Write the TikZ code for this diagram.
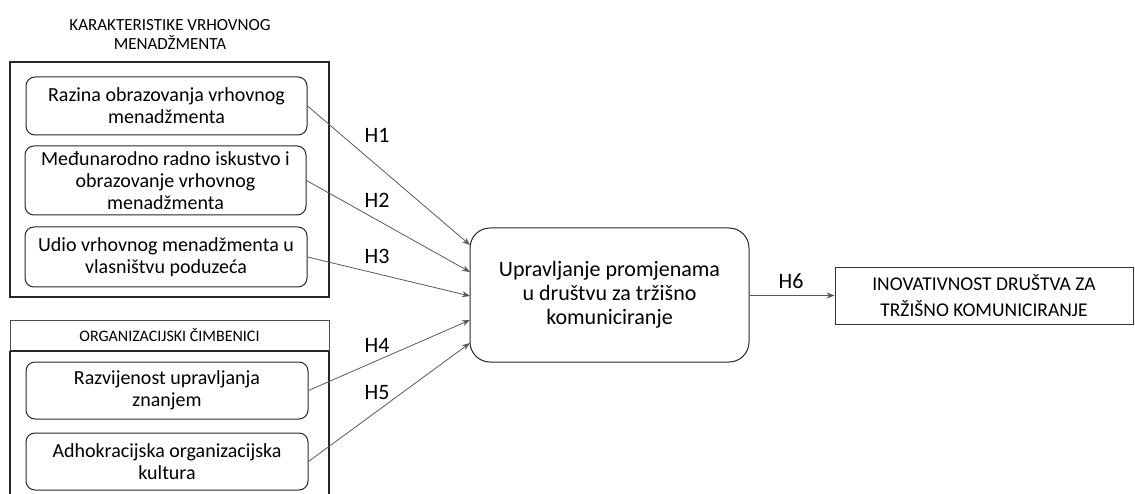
\documentclass[tikz,border=0pt]{standalone}
\usepackage{fontspec}
\setmainfont{Carlito}
\usetikzlibrary{arrows.meta}
\begin{document}
\begin{tikzpicture}[x=1pt,y=-1pt,
  outerbox/.style={draw=black!85,line width=1.1pt,inner sep=0pt},
  itembox/.style={draw=black!85,line width=1pt,rounded corners=9pt,align=center,inner sep=0pt,font=\fontsize{20}{22}\selectfont},
  mainbox/.style={draw=black!85,line width=1pt,rounded corners=20pt,align=center,inner sep=0pt,font=\fontsize{22}{24}\selectfont},
  plainbox/.style={draw=black!80,line width=0.8pt,align=center,inner sep=0pt,font=\fontsize{19.5}{26}\selectfont},
  titletxt/.style={align=center,font=\fontsize{17}{19}\selectfont},
  hyp/.style={font=\fontsize{22}{24}\selectfont},
  conn/.style={draw=black!65,line width=0.8pt,-{Stealth[length=8pt,width=6pt]}}]
\useasboundingbox (0,0) rectangle (1135,494);
% group 1
\node[titletxt] (t1) at (170,34) {KARAKTERISTIKE VRHOVNOG\\MENADŽMENTA};
\node[outerbox,minimum width=319pt,minimum height=235pt] (g1) at (169.5,179.5) {};
\node[itembox,minimum width=281pt,minimum height=58pt] (b1) at (166.5,106) {Razina obrazovanja vrhovnog\\menadžmenta};
\node[itembox,minimum width=281pt,minimum height=69pt] (b2) at (165.5,180.5) {Međunarodno radno iskustvo i\\obrazovanje vrhovnog\\menadžmenta};
\node[itembox,minimum width=282pt,minimum height=60pt] (b3) at (166,257) {Udio vrhovnog menadžmenta u\\vlasništvu poduzeća};
% group 2
\node[draw=black!70,line width=0.7pt,minimum width=319pt,minimum height=31pt,inner sep=0pt,font=\fontsize{16}{18}\selectfont] (h2) at (169.5,335.5) {ORGANIZACIJSKI ČIMBENICI};
\draw[black!85,line width=1.1pt] (10,351) -- (10,500) (329,351) -- (329,500) (10,351) -- (329,351);
\node[itembox,minimum width=282pt,minimum height=57pt] (b4) at (167,390.5) {Razvijenost upravljanja\\znanjem};
\node[itembox,minimum width=282pt,minimum height=57pt] (b5) at (167,461.5) {Adhokracijska organizacijska\\kultura};
% centre
\node[mainbox,minimum width=279pt,minimum height=134pt] (c) at (609.5,295) {Upravljanje promjenama\\u društvu za tržišno\\komuniciranje};
\node[plainbox,minimum width=298pt,minimum height=57pt] (r) at (984,295.5) {INOVATIVNOST DRUŠTVA ZA\\TRŽIŠNO KOMUNICIRANJE};
% arrow ends
\coordinate (e1) at (470,245);
\coordinate (e2) at (470,272);
\coordinate (e3) at (470,296);
\coordinate (e4) at (470,320);
\coordinate (e5) at (470,343);
\draw[conn] (b1.east) -- (e1);
\draw[conn] (b2.east) -- (e2);
\draw[conn] (b3.east) -- (e3);
\draw[conn] (b4.east) -- (e4);
\draw[conn] (b5.east) -- (e5);
\draw[conn] (c.east |- r.west) -- (r.west);
% labels
\node[hyp] (l1) at (377,135) {H1};
\node[hyp] (l2) at (377,200) {H2};
\node[hyp] (l3) at (377,256) {H3};
\node[hyp] (l4) at (377,345) {H4};
\node[hyp] (l5) at (377,393) {H5};
\node[hyp] (l6) at (791,281) {H6};
\end{tikzpicture}
\end{document}
